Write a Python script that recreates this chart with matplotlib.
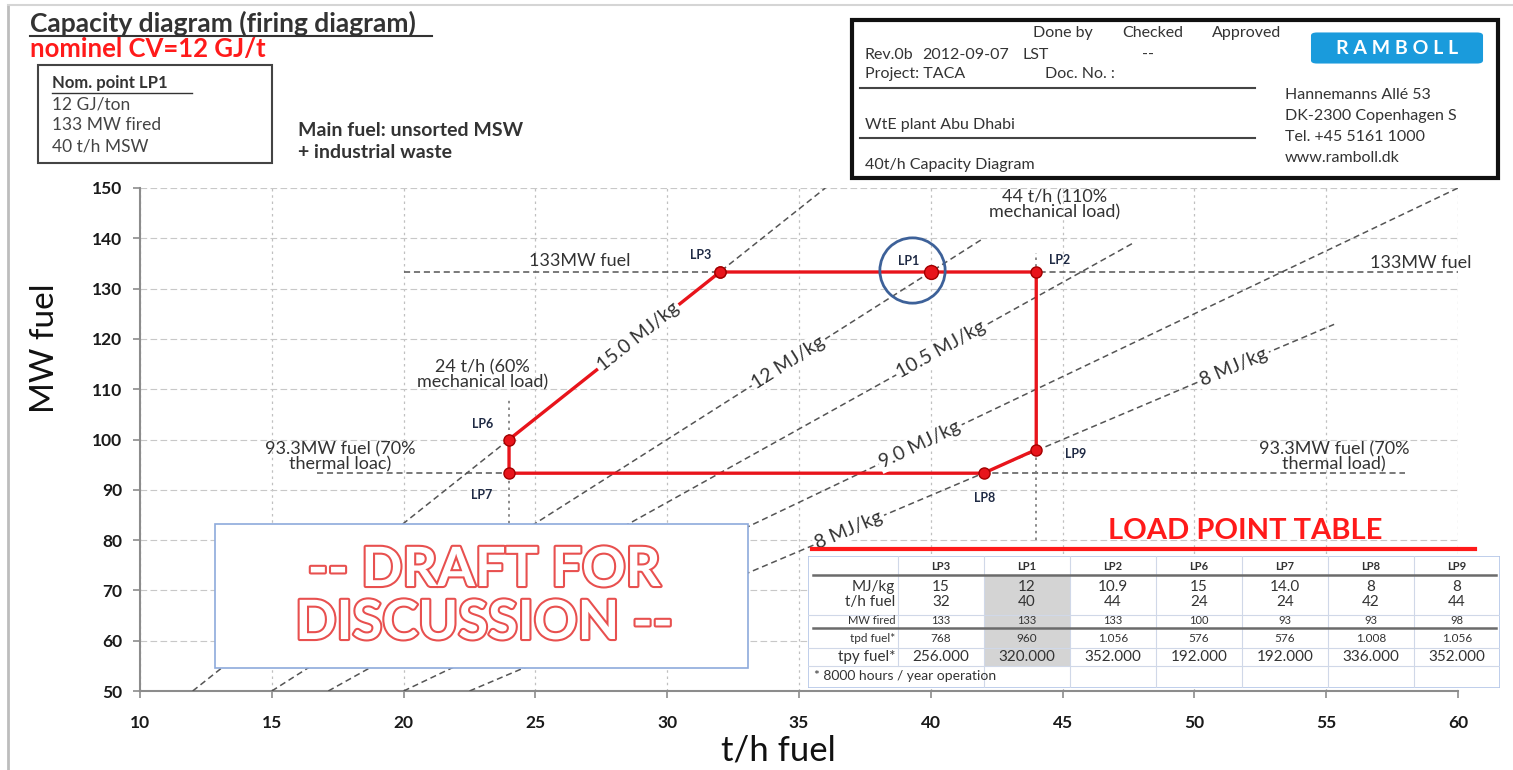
import math
import matplotlib
matplotlib.use('Agg')
import matplotlib.pyplot as plt
import matplotlib.patheffects as pe
from matplotlib.patches import Rectangle, FancyBboxPatch
from matplotlib.lines import Line2D

plt.rcParams['font.family'] = ['Lato', 'DejaVu Sans']

# load points (t/h fuel, MW fuel)
lp_names = ['LP3', 'LP1', 'LP2', 'LP6', 'LP7', 'LP8', 'LP9']
lp_tph = [32, 40, 44, 24, 24, 42, 44]
lp_mw = [133.3, 133.3, 133.3, 100, 93.3, 93.3, 98]
envelope = ['LP3', 'LP1', 'LP2', 'LP9', 'LP8', 'LP7', 'LP6', 'LP3']

# table contents
row_labels = ['MJ/kg', 't/h fuel', 'MW fired', 'tpd fuel*', 'tpy fuel*']
tab_cv = ['15', '12', '10.9', '15', '14.0', '8', '8']
tab_tph = ['32', '40', '44', '24', '24', '42', '44']
tab_mw = ['133', '133', '133', '100', '93', '93', '98']
tab_tpd = ['768', '960', '1.056', '576', '576', '1.008', '1.056']
tab_tpy = ['256.000', '320.000', '352.000', '192.000', '192.000', '336.000', '352.000']

# constant calorific value lines, MJ/kg, and where they stop (t/h)
cv_lines = [15, 12, 10.5, 9.0, 8]
cv_end_tph = [36, 42, 47.7, 60, 55.3]
cv_labels = ['15.0 MJ/kg', '12 MJ/kg', '10.5 MJ/kg', '9.0 MJ/kg', '8 MJ/kg', '8 MJ/kg']
cv_label_cv = [15, 12, 10.5, 9.0, 8, 8]
cv_label_tph = [28.9, 34.6, 40.4, 39.6, 51.5, 36.9]

# load limits
mw_max, mw_min = 133.3, 93.3
tph_min, tph_max = 24, 44

W, H = 1513, 770
fig = plt.figure(figsize=(W / 100, H / 100), dpi=100)


def fx(px):
    return px / W


def fy(py):
    return 1 - py / H


ax = fig.add_axes([fx(140), fy(691), (1458 - 140) / W, (691 - 188) / H])
ax.set_xlim(10, 60)
ax.set_ylim(50, 150)
ax.set_xticks(range(10, 61, 5))
ax.set_yticks(range(50, 151, 10))
for s in ['top', 'right']:
    ax.spines[s].set_visible(False)
for s in ['left', 'bottom']:
    ax.spines[s].set_color('#8c8c8c')
    ax.spines[s].set_linewidth(1.5)
ax.tick_params(direction='out', length=5, width=1.2, color='#8c8c8c',
               labelsize=12.5, labelcolor='#1a1a1a')
ax.tick_params(axis='x', pad=12)
ax.tick_params(axis='y', pad=8)
for lab in ax.get_xticklabels() + ax.get_yticklabels():
    lab.set_fontweight('bold')
ax.grid(axis='y', color='#c8c8c8', linestyle=(0, (6, 3)), linewidth=0.8)
ax.grid(axis='x', color='#c0c0c0', linestyle=(0, (2, 3)), linewidth=0.9)
ax.set_axisbelow(True)

dash = dict(color='#555555', linestyle=(0, (4, 2.5)), linewidth=1.1, zorder=3)

# CV lines
for cv, xe in zip(cv_lines, cv_end_tph):
    ax.plot([50 * 3.6 / cv, xe], [50, xe * cv / 3.6], **dash)

# thermal and mechanical limits
ax.plot([20, 60], [mw_max, mw_max], **dash)
ax.plot([16.7, 58], [mw_min, mw_min], **dash)
ax.plot([tph_min, tph_min], [82, 108], color='#777777', linestyle=(0, (1.5, 2.5)), lw=1.2, zorder=3)
ax.plot([tph_max, tph_max], [80, 137], color='#777777', linestyle=(0, (1.5, 2.5)), lw=1.2, zorder=3)

# envelope
idx = [lp_names.index(n) for n in envelope]
ax.plot([lp_tph[i] for i in idx], [lp_mw[i] for i in idx], color='#e8141b', lw=2.4,
        marker='o', ms=8, mfc='#e8141b', mec='#a30000', zorder=4)
i1 = lp_names.index('LP1')
ax.plot(lp_tph[i1], lp_mw[i1], 'o', ms=10, color='#e8141b', mec='#a30000', zorder=5)
ax.plot(lp_tph[i1] - 0.7, lp_mw[i1] + 0.4, 'o', ms=47, mfc='none', mec='#3d6199', mew=2, zorder=5)

# load point names
offsets = {'LP3': (-14, 12), 'LP1': (-16, 8), 'LP2': (17, 9), 'LP6': (-19, 11),
           'LP7': (-20, -16), 'LP8': (1, -18), 'LP9': (28, -3)}
for n, x, y in zip(lp_names, lp_tph, lp_mw):
    ax.annotate(n, (x, y), xytext=offsets[n], textcoords='offset points', ha='center',
                va='center', fontsize=9, fontweight='bold', color='#1f2a44', zorder=6)

# CV labels along the lines
fig.canvas.draw()
for lab, cv, x in zip(cv_labels, cv_label_cv, cv_label_tph):
    y = x * cv / 3.6
    p1 = ax.transData.transform((x, y))
    p2 = ax.transData.transform((x + 1, y + cv / 3.6))
    ang = math.degrees(math.atan2(p2[1] - p1[1], p2[0] - p1[0]))
    ax.text(x, y, lab, rotation=ang, rotation_mode='anchor', ha='center', va='center',
            fontsize=14, color='#333333', zorder=6,
            bbox=dict(fc='white', ec='none', pad=1.5))

note = dict(fontsize=13, color='#333333', ha='center', va='center', zorder=6, linespacing=0.95)
ax.text(26.7, 135.4, '133MW fuel', **note)
ax.text(58.6, 135.0, '133MW fuel', **note)
ax.text(17.6, 96.5, '93.3MW fuel (70%\nthermal loac)', **note)
ax.text(55.3, 96.5, '93.3MW fuel (70%\nthermal load)', **note)
ax.text(23.0, 112.8, '24 t/h (60%\nmechanical load)', **note)
ax.text(44.7, 146.6, '44 t/h (110%\nmechanical load)', **note)

# axis titles
fig.text(fx(45), fy(348), 'MW fuel', rotation=90, ha='center', va='center', fontsize=24, color='#111111')
fig.text(fx(778), fy(750), 't/h fuel', ha='center', va='center', fontsize=25, color='#111111')

# draft box
fig.add_artist(Rectangle((fx(215), fy(668)), (748 - 215) / W, (668 - 524) / H,
                         transform=fig.transFigure, fc='white', ec='#8eaadb', lw=1.2, zorder=5))
fig.text(fx(484), fy(597), '-- DRAFT FOR\nDISCUSSION --', ha='center', va='center',
         fontsize=39, fontweight='bold', color='white', linespacing=1.1, zorder=6,
         path_effects=[pe.withStroke(linewidth=3, foreground='#e8504f')])

# load point table
fig.text(fx(1245), fy(531), 'LOAD POINT TABLE', ha='center', va='center', fontsize=21,
         fontweight='bold', color='#ff1a1a', zorder=6)
fig.add_artist(Line2D([fx(812), fx(1475)], [fy(549), fy(549)], color='#ff1a1a', lw=3, zorder=6))

tax = fig.add_axes([fx(808), fy(688), 692 / W, 132 / H], zorder=5)
tax.set_xlim(0, 692)
tax.set_ylim(132, 0)
tax.axis('off')
tax.add_patch(Rectangle((0, 0), 692, 132, fc='white', ec='#b4c6e7', lw=1.2))
c0 = 90
cw = (692 - c0) / len(lp_names)
tax.add_patch(Rectangle((c0 + cw * 1, 19), cw, 91, fc='#d4d4d4', ec='none'))
for k in range(len(lp_names)):
    xl = c0 + cw * k
    tax.plot([xl, xl], [0, 110 if k < 1 else 132], color='#d0d8e8', lw=0.8)
for yl in [59, 92, 110]:
    tax.plot([0, 692], [yl, yl], color='#d0d8e8', lw=0.8)
for yl in [19, 72]:
    tax.plot([5, 688], [yl, yl], color='#6b6b6b', lw=1.8)
rows = [tab_cv, tab_tph, tab_mw, tab_tpd, tab_tpy]
row_y = [31, 46, 65, 82, 101]
row_fs = [11, 11, 8, 8.5, 11]
for k, n in enumerate(lp_names):
    xc = c0 + cw * (k + 0.5)
    tax.text(xc, 10, n, ha='center', va='center', fontsize=8, fontweight='bold', color='#333333')
    for vals, yv, fs in zip(rows, row_y, row_fs):
        tax.text(xc, yv, vals[k], ha='center', va='center', fontsize=fs, color='#333333')
for lab, yv, fs in zip(row_labels, row_y, row_fs):
    tax.text(c0 - 3, yv, lab, ha='right', va='center', fontsize=fs, color='#333333')
tax.text(6, 120, '* 8000 hours / year operation', ha='left', va='center', fontsize=10, color='#333333')

# header, top left
fig.text(fx(30), fy(23), 'Capacity diagram (firing diagram)', ha='left', va='center',
         fontsize=19, fontweight='bold', color='#333333')
fig.add_artist(Line2D([fx(30), fx(432)], [fy(36), fy(36)], color='#333333', lw=1.5))
fig.text(fx(30), fy(49), 'nominel CV=12 GJ/t', ha='left', va='center', fontsize=18.5,
         fontweight='bold', color='#ff1a1a')
fig.add_artist(Rectangle((fx(38), fy(163)), (272 - 38) / W, (163 - 65) / H,
                         transform=fig.transFigure, fc='none', ec='#444444', lw=1.5))
fig.text(fx(52), fy(83), 'Nom. point LP1', ha='left', va='center', fontsize=12,
         fontweight='bold', color='#333333')
fig.add_artist(Line2D([fx(52), fx(192)], [fy(93), fy(93)], color='#333333', lw=1))
for t, py in zip(['12 GJ/ton', '133 MW fired', '40 t/h MSW'], [104, 125, 146]):
    fig.text(fx(52), fy(py), t, ha='left', va='center', fontsize=12.5, color='#444444')
fig.text(fx(298), fy(130), 'Main fuel: unsorted MSW', ha='left', va='center', fontsize=14,
         fontweight='bold', color='#333333')
fig.text(fx(298), fy(152), '+ industrial waste', ha='left', va='center', fontsize=14,
         fontweight='bold', color='#333333')

# title block, top right
fig.add_artist(Rectangle((fx(852), fy(178)), (1498 - 852) / W, (178 - 20) / H,
                         transform=fig.transFigure, fc='white', ec='#111111', lw=3))
tb = dict(ha='left', va='center', fontsize=11.5, color='#333333')
fig.text(fx(1033), fy(33), 'Done by', **tb)
fig.text(fx(1122), fy(33), 'Checked', **tb)
fig.text(fx(1212), fy(33), 'Approved', **tb)
fig.text(fx(865), fy(55), 'Rev.0b', **tb)
fig.text(fx(922), fy(55), '2012-09-07', **tb)
fig.text(fx(1022), fy(55), 'LST', **tb)
fig.text(fx(1142), fy(55), '--', **tb)
fig.text(fx(865), fy(74), 'Project: TACA', **tb)
fig.text(fx(1045), fy(74), 'Doc. No. :', **tb)
fig.text(fx(865), fy(125), 'WtE plant Abu Dhabi', **tb)
fig.text(fx(865), fy(165), '40t/h Capacity Diagram', **tb)
for py in [88, 138]:
    fig.add_artist(Line2D([fx(860), fx(1255)], [fy(py), fy(py)], color='#444444', lw=1.5))
fig.add_artist(FancyBboxPatch((fx(1314), fy(62)), (1480 - 1314) / W, (62 - 34) / H,
                              boxstyle='round,pad=0.002,rounding_size=0.004',
                              transform=fig.transFigure, fc='#1a9bdc', ec='none'))
fig.text(fx(1397), fy(48), 'R A M B O L L', ha='center', va='center', fontsize=14,
         fontweight='bold', color='white')
for t, py in zip(['Hannemanns Allé 53', 'DK-2300 Copenhagen S', 'Tel. +45 5161 1000',
                  'www.ramboll.dk'], [95, 116, 137, 158]):
    fig.text(fx(1285), fy(py), t, ha='left', va='center', fontsize=11.5, color='#333333')

# page border
fig.add_artist(Line2D([fx(8), fx(8)], [0, fy(5)], color='#bdbdbd', lw=2))
fig.add_artist(Line2D([fx(8), 1], [fy(5), fy(5)], color='#d5d5d5', lw=1.5))

fig.savefig('out.png', dpi=100)
plt.close('all')
